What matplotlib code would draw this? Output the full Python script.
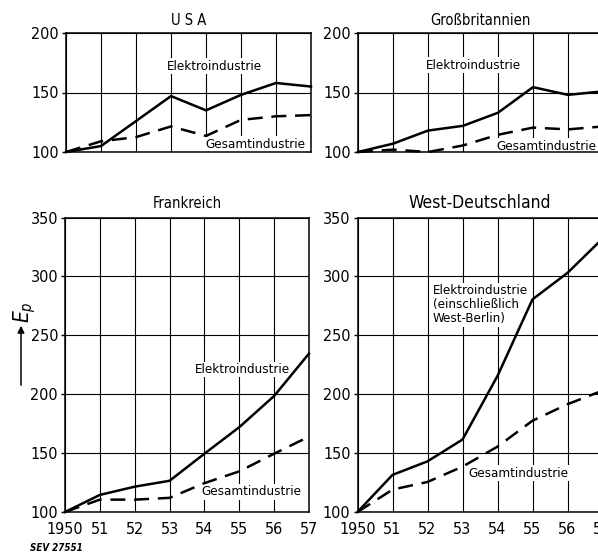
import numpy as np
import matplotlib.pyplot as plt
from matplotlib import font_manager

# the original lettering is a narrow DIN style face - use a condensed font if one is installed
narrow = None
for f in font_manager.fontManager.ttflist:
    if ('Narrow' in f.name or 'Condensed' in f.name or f.stretch in ('condensed', 'semi-condensed')) \
            and f.style == 'normal' and f.weight in (400, 'normal', 'regular'):
        narrow = f
        break
if narrow is not None:
    plt.rcParams['font.family'] = [narrow.name, 'DejaVu Sans']
    if narrow.stretch in ('condensed', 'semi-condensed'):
        plt.rcParams['font.stretch'] = narrow.stretch
    fs = 11.5
else:
    plt.rcParams['font.family'] = ['Liberation Sans', 'DejaVu Sans']
    fs = 11

#%%% data (index 1950 = 100)
years = [1950, 1951, 1952, 1953, 1954, 1955, 1956, 1957]
year_labels = ['1950', '51', '52', '53', '54', '55', '56', '57']

usa_elektro = [100, 105, 126, 147, 135, 148, 158, 155]
usa_gesamt = [100, 109, 112.5, 121.5, 113.5, 127, 130, 131]

gb_elektro = [100, 107, 118, 122, 133, 154.5, 148, 151]
gb_gesamt = [100, 102, 100, 105.5, 114.5, 120.5, 119, 121.5]

fr_elektro = [100, 114.5, 121.5, 126.5, 149.5, 172, 198.5, 234.5]
fr_gesamt = [100, 110.5, 110.5, 112, 124.5, 134.5, 149.5, 164]

wd_elektro = [100, 131.5, 143, 161.5, 215.5, 280.5, 303, 332]
wd_gesamt = [100, 119, 125.5, 138.5, 155.5, 177.5, 191.5, 203]

top_yticks = [100, 150, 200]
bottom_yticks = [100, 150, 200, 250, 300, 350]

W, H = 598, 555
fig = plt.figure(figsize=(W / 100, H / 100), dpi=100)

def px_axes(left, top, right, bottom):
    # pixel box -> figure fraction
    return fig.add_axes([left / W, 1 - bottom / H, (right - left) / W, (bottom - top) / H])

def setup(ax, yticks, show_x):
    ax.set_xlim(1950, 1957)
    ax.set_ylim(yticks[0], yticks[-1])
    ax.set_xticks(years)
    ax.set_yticks(yticks)
    ax.set_yticklabels([str(v) for v in yticks], fontsize=fs)
    if show_x:
        ax.set_xticklabels(year_labels, fontsize=fs)
        ax.tick_params(axis='x', length=0, pad=7)
    else:
        ax.set_xticklabels([])
        ax.tick_params(axis='x', length=0)
    ax.tick_params(axis='y', length=3, width=1, pad=2)
    ax.grid(True, color='black', lw=0.8)
    ax.set_axisbelow(True)
    for s in ax.spines.values():
        s.set_linewidth(1.1)

def draw(ax, elektro, gesamt):
    ax.plot(years, elektro, color='black', lw=1.8, clip_on=False, zorder=3)
    ax.plot(years, gesamt, color='black', lw=1.8, dashes=(6, 3.5), clip_on=False, zorder=3)

box = dict(facecolor='white', edgecolor='none', pad=1)
lab = 9.5

# USA
ax1 = px_axes(66, 33, 311, 152)
setup(ax1, top_yticks, False)
draw(ax1, usa_elektro, usa_gesamt)
ax1.set_title('U S A', fontsize=10.5, pad=6)
ax1.text(1954.25, 172, 'Elektroindustrie', fontsize=lab, ha='center', va='center', bbox=box, zorder=2)
ax1.text(1955.4, 106.5, 'Gesamtindustrie', fontsize=lab, ha='center', va='center', bbox=box, zorder=2)

# Grossbritannien (right edge runs off the page)
ax2 = px_axes(358, 33, 603, 152)
setup(ax2, top_yticks, False)
draw(ax2, gb_elektro, gb_gesamt)
ax2.set_title('Großbritannien', fontsize=10.5, pad=6)
ax2.text(1953.3, 173, 'Elektroindustrie', fontsize=lab, ha='center', va='center', bbox=box, zorder=2)
ax2.text(1955.37, 105, 'Gesamtindustrie', fontsize=lab, ha='center', va='center', bbox=box, zorder=2)

# Frankreich
ax3 = px_axes(65, 217.5, 309, 512)
setup(ax3, bottom_yticks, True)
draw(ax3, fr_elektro, fr_gesamt)
ax3.set_title('Frankreich', fontsize=10.5, pad=7)
ax3.text(1955.1, 221, 'Elektroindustrie', fontsize=lab, ha='center', va='center', bbox=box, zorder=2)
ax3.text(1955.35, 117, 'Gesamtindustrie', fontsize=lab, ha='center', va='center', bbox=box, zorder=2)

# West-Deutschland
ax4 = px_axes(357.5, 217.5, 602.5, 512)
setup(ax4, bottom_yticks, True)
draw(ax4, wd_elektro, wd_gesamt)
ax4.set_title('West-Deutschland', fontsize=12.5, pad=7)
ax4.text(1952.15, 276, 'Elektroindustrie\n(einschließlich\nWest-Berlin)', fontsize=lab,
         ha='left', va='center', linespacing=1.1, bbox=box, zorder=2)
ax4.text(1954.6, 133, 'Gesamtindustrie', fontsize=lab, ha='center', va='center', bbox=box, zorder=2)

# axis label with arrow
fig.text(25 / W, 1 - 312 / H, '$E_p$', fontsize=15, rotation=90, ha='center', va='center')
ax3.annotate('', xy=(21 / W, 1 - 323 / H), xytext=(21 / W, 1 - 388 / H),
             xycoords='figure fraction', textcoords='figure fraction',
             arrowprops=dict(arrowstyle='-|>', lw=1.1, color='black', mutation_scale=10),
             annotation_clip=False)

fig.text(30 / W, 1 - 548 / H, 'SEV 27551', fontsize=7, style='italic', weight='bold',
         family='DejaVu Sans', ha='left', va='center')

fig.savefig('out.png', dpi=100)
